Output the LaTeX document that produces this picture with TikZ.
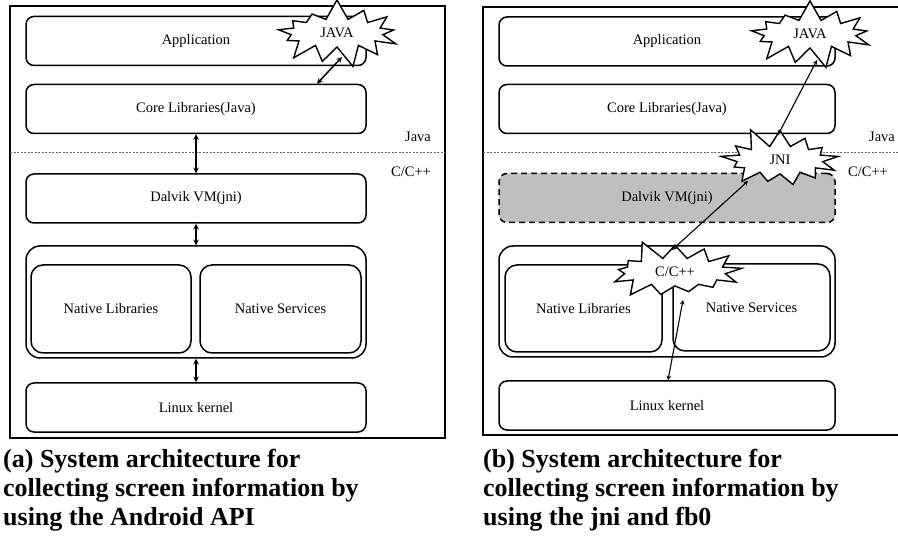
\documentclass[tikz,border=0pt]{standalone}
\usepackage{fontspec}
\setmainfont{Liberation Serif}
\usetikzlibrary{shapes.symbols}
\tikzstyle{capa} = [rectangle, rounded corners=8pt, minimum width=340pt, minimum height=49pt, text centered, draw=black, line width=1.5pt, font=\fontsize{14.5}{17}\selectfont]
\tikzstyle{capagris} = [capa, dash pattern=on 6pt off 4pt, fill=black!25]
\tikzstyle{nativa} = [capa, rounded corners=12pt, minimum width=160pt, minimum height=88pt]
\tikzstyle{estallido} = [starburst, random starburst=7, starburst points=13, starburst point height=21pt, draw=black, fill=white, line width=1.4pt, inner xsep=16pt, inner ysep=5pt, font=\fontsize{14.5}{17}\selectfont]
\tikzstyle{rotulo} = [font=\fontsize{14.5}{17}\selectfont]
\tikzstyle{pie} = [align=left, anchor=north west, inner sep=0pt, font=\bfseries\fontsize{26}{29}\selectfont]
\tikzstyle{marco} = [draw=black, line width=1.4pt]
\tikzstyle{limite} = [draw=black!60, line width=0.6pt, dash pattern=on 2pt off 1.5pt]
\tikzstyle{flecha} = [line width=1.5pt,<->,>=stealth]
\tikzstyle{flechafina} = [line width=1.1pt,<->,>=stealth]

\begin{document}
\begin{tikzpicture}[x=1pt, y=-1pt]
    \useasboundingbox (0,0) rectangle (898,540);
    % Marcos
    \draw[marco] (10,6) rectangle (445,438);
    \draw[marco] (902,7) -- (483,7) -- (483,435) -- (902,435);
    \draw[limite] (10,152) -- (445,152);
    \draw[limite] (483,152) -- (898,152);
    \node (javaizq) [rotulo] at (418,137) {Java};
    \node (cizq) [rotulo] at (411,172) {C/C++};
    \node (javader) [rotulo] at (882,137) {Java};
    \node (cder) [rotulo] at (868,172) {C/C++};

    % Cuadros (a)
    \node (appA) [capa] at (196,41) {Application};
    \node (coreA) [capa] at (196,109) {Core Libraries(Java)};
    \node (dalvikA) [capa] at (196,198.5) {Dalvik VM(jni)};
    \node (nativoA) [capa, rounded corners=14pt, minimum height=112pt] at (196,302) {};
    \node (libA) [nativa] at (111,309) {Native Libraries};
    \node (servA) [nativa, minimum width=161pt] at (280.5,309) {Native Services};
    \node (linuxA) [capa] at (196,407.5) {Linux kernel};
    \node (burstA) [estallido] at (337,33) {JAVA};

    % Cuadros (b)
    \node (appB) [capa, minimum width=336pt] at (667,41.5) {Application};
    \node (coreB) [capa, minimum width=336pt] at (667,109) {Core Libraries(Java)};
    \node (dalvikB) [capagris, minimum width=336pt] at (667,198) {Dalvik VM(jni)};
    \node (nativoB) [capa, rounded corners=14pt, minimum width=336pt, minimum height=111pt] at (667,301.5) {};
    \node (libB) [nativa, minimum width=157pt, minimum height=87pt] at (583.5,308.5) {Native Libraries};
    \node (servB) [nativa, minimum width=157pt, minimum height=87pt] at (751.5,307.5) {Native Services};
    \node (linuxB) [capa, minimum width=336pt] at (667,405.5) {Linux kernel};
    \node (burstB) [estallido] at (810,34) {JAVA};
    \node (jni) [estallido, random starburst=11, inner xsep=20pt] at (780,160) {JNI};
    \node (ccpp) [estallido, random starburst=5] at (675,272) {C/C++};

    % Flechas
    \draw[flecha] ([shift={(5,24)}]burstA.center) -- ([xshift=121pt]coreA.north);
    \draw[flecha] (coreA) -- (dalvikA);
    \draw[flecha] (dalvikA) -- (nativoA);
    \draw[flecha] (nativoA) -- (linuxA);
    \draw[flechafina] ([shift={(7,26)}]burstB.center) -- ([shift={(-2,-25)}]jni.center);
    \draw[flechafina] ([shift={(-32,21)}]jni.center) -- ([shift={(-3,-22)}]ccpp.center);
    \draw[flechafina] ([shift={(8,28)}]ccpp.center) -- ([xshift=1pt]linuxB.north);

    % Leyendas
    \node (pieA) [pie] at (3,449) {(a) System architecture for\\collecting screen information by\\using the Android API};
    \node (pieB) [pie] at (483,449) {(b) System architecture for\\collecting screen information by\\using the jni and fb0};
\end{tikzpicture}
\end{document}
